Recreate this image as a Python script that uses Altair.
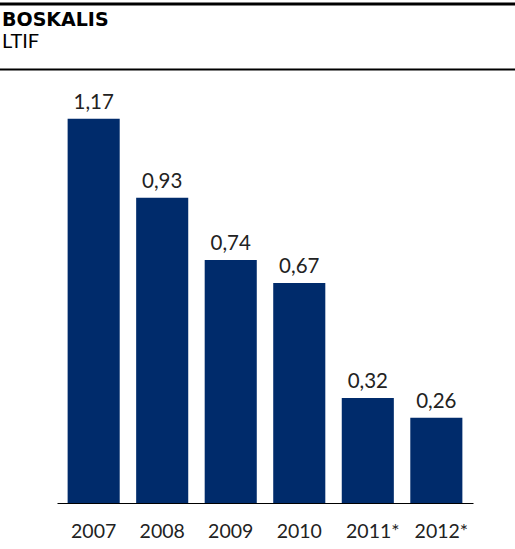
import altair as alt
import pandas as pd

years = ["2007", "2008", "2009", "2010", "2011*", "2012*"]
ltif = [1.17, 0.93, 0.74, 0.67, 0.32, 0.26]
title_text = "BOSKALIS"
subtitle_text = "LTIF"

df = pd.DataFrame({"year": years, "ltif": ltif})
df["label"] = [f"{v:.2f}".replace(".", ",") for v in ltif]

W, H = 416, 394
PAD_L, PAD_T = 57, 109
BAR = "#002B6B"
TXT = "#222222"

x = alt.X(
    "year:N",
    sort=years,
    scale=alt.Scale(paddingInner=0.24, paddingOuter=0.155),
    axis=alt.Axis(
        title=None, labelAngle=0, ticks=False, domainColor="#000000",
        domainWidth=1, labelFont="Lato", labelFontSize=19.5,
        labelColor=TXT, labelPadding=19,
        labelOffset={"condition": {"test": "indexof(datum.value, '*') >= 0", "value": 5}, "value": 0},
    ),
)
y = alt.Y("ltif:Q", scale=alt.Scale(domain=[0, 1.2], nice=False), axis=None)

base = alt.Chart(df)
bars = base.mark_bar(color=BAR).encode(x=x, y=y)
labels = base.mark_text(
    font="Lato", fontSize=20.5, color=TXT, baseline="alphabetic", dy=-10
).encode(x=x, y=y, text="label:N")

title = alt.Chart(alt.Data(values=[{"t": title_text}])).mark_text(
    align="left", baseline="alphabetic", font="DejaVu Sans", fontWeight="bold",
    fontSize=19, color="#000000"
).encode(x=alt.value(-55), y=alt.value(-83), text="t:N")

subtitle = alt.Chart(alt.Data(values=[{"t": subtitle_text}])).mark_text(
    align="left", baseline="alphabetic", font="Lato", fontSize=20, color="#000000"
).encode(x=alt.value(-55), y=alt.value(-61), text="t:N")

one = alt.Data(values=[{"a": 1}])
rule_top = alt.Chart(one).mark_rule(color="#000000", strokeWidth=3).encode(
    x=alt.value(-PAD_L), x2=alt.value(515 - PAD_L), y=alt.value(4 - PAD_T)
)
rule_mid = alt.Chart(one).mark_rule(color="#000000", strokeWidth=2).encode(
    x=alt.value(-PAD_L), x2=alt.value(515 - PAD_L), y=alt.value(69.5 - PAD_T)
)

chart = alt.layer(bars, labels, title, subtitle, rule_top, rule_mid).properties(
    width=W, height=H,
    background="white",
    autosize=alt.AutoSizeParams(type="none"),
    padding={"left": PAD_L, "top": PAD_T, "right": 515 - PAD_L - W, "bottom": 549 - PAD_T - H},
).configure_view(stroke=None)

chart.save("out.html", embed_options={"renderer": "svg", "actions": False})
